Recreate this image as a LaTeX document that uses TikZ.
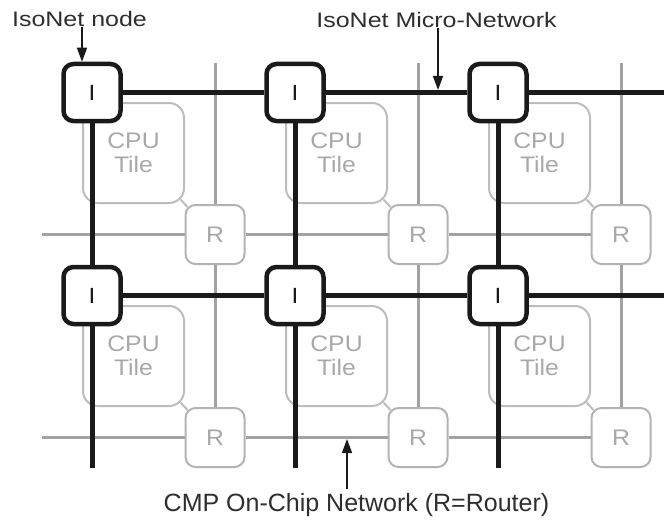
\documentclass[tikz,border=0pt]{standalone}
\usepackage{fontspec}
\setmainfont{Liberation Sans}
\newfontfamily\toplabelfont[FakeStretch=1.19]{Liberation Sans}
\newfontfamily\tilefont[FakeStretch=1.1]{Liberation Sans}
\usetikzlibrary{arrows.meta}

\pgfdeclarelayer{grid}
\pgfdeclarelayer{micro}
\pgfsetlayers{grid,micro,main}

\definecolor{meshgray}{HTML}{A2A2A2}
\definecolor{tilegray}{HTML}{BDBDBD}
\definecolor{routergray}{HTML}{B3B3B3}
\definecolor{labelgray}{HTML}{A8A8A8}
\definecolor{ink}{HTML}{1A1A1A}
\definecolor{captionink}{HTML}{2E2E2E}

\tikzset{
  isonode/.style={draw=ink, fill=white, line width=4.5pt, rounded corners=10pt,
    minimum width=57pt, minimum height=57pt, inner sep=0pt,
    font={\tilefont\fontsize{22}{24}\selectfont}, text=ink},
  router/.style={draw=routergray, fill=white, line width=2pt, rounded corners=10pt,
    minimum width=59pt, minimum height=59pt, inner sep=0pt,
    font={\tilefont\fontsize{22.5}{24}\selectfont}, text=labelgray},
  cputile/.style={draw=tilegray, line width=2pt, rounded corners=15pt,
    minimum width=101pt, minimum height=100pt, inner sep=0pt, align=center,
    font={\tilefont\fontsize{22.5}{24.5}\selectfont}, text=labelgray},
  tilelink/.style={draw=tilegray, line width=2pt},
  microlink/.style={draw=ink, line width=5pt},
  meshlink/.style={draw=meshgray, line width=3pt},
  callout/.style={draw=ink, line width=1.5pt, -{Triangle[width=10pt,length=14pt]}},
  caption/.style={inner sep=0pt, anchor=base, text=captionink}
}

\begin{document}
\begin{tikzpicture}[x=1pt, y=-1pt]
\useasboundingbox (0,0) rectangle (664,527);

% IsoNet nodes
\foreach \i in {0,1,2} {
  \foreach \j in {0,1} {
    \node[isonode] (I\i\j) at ({92+203*\i},{92.5+203*\j}) {I};
  }
}

% CPU tiles, routers and the on-chip mesh
\begin{pgfonlayer}{grid}
  \foreach \i in {0,1,2} {
    \foreach \j in {0,1} {
      \node[cputile] (T\i\j) at ({133.5+203*\i},{153+203*\j}) {CPU\\Tile};
      \node[router] (R\i\j) at ({215+203*\i},{234.5+203*\j}) {R};
      \draw[tilelink] ([shift={(-4.4,-4.4)}]T\i\j.south east)
        -- ([shift={(2.9,2.9)}]R\i\j.north west);
    }
    \coordinate (N\i) at ({215+203*\i},63);
    \draw[meshlink] (N\i) -- (R\i0);
    \draw[meshlink] (R\i0) -- (R\i1);
  }
  \foreach \j in {0,1} {
    \coordinate (W\j) at (42,{234.5+203*\j});
    \draw[meshlink] (W\j) -- (R0\j) -- (R1\j) -- (R2\j);
  }
\end{pgfonlayer}

% IsoNet micro-network
\begin{pgfonlayer}{micro}
  \foreach \j in {0,1} {
    \coordinate (E\j) at (664,{92.5+203*\j});
    \draw[microlink] (I0\j) -- (I1\j) -- (I2\j) -- (E\j);
  }
  \foreach \i in {0,1,2} {
    \coordinate (B\i) at ({92+203*\i},468);
    \draw[microlink] (I\i0) -- (I\i1) -- (B\i);
  }
\end{pgfonlayer}

% captions and call-outs
\node[caption, font={\toplabelfont\fontsize{21}{24}\selectfont}] (Lnode) at (79.5,27) {IsoNet node};
\node[caption, font={\toplabelfont\fontsize{21}{24}\selectfont}] (Lmicro) at (436.5,28) {IsoNet Micro-Network};
\node[caption, font={\fontsize{25}{30}\selectfont}] (Lcmp) at (356.5,511.5) {CMP On-Chip Network (R=Router)};

\coordinate (A1) at ([xshift=2.5pt]Lnode.south);
\draw[callout] (A1) -- (A1 |- I00.north);

\coordinate (A2) at ([xshift=1.5pt]Lmicro.south);
\draw[callout, shorten >=2.5pt] (A2) -- (A2 |- I10.center);

\coordinate (A3) at ([shift={(-9.5,-4)}]Lcmp.north);
\draw[callout, shorten >=1.5pt] (A3) -- (A3 |- R01.center);
\end{tikzpicture}
\end{document}
